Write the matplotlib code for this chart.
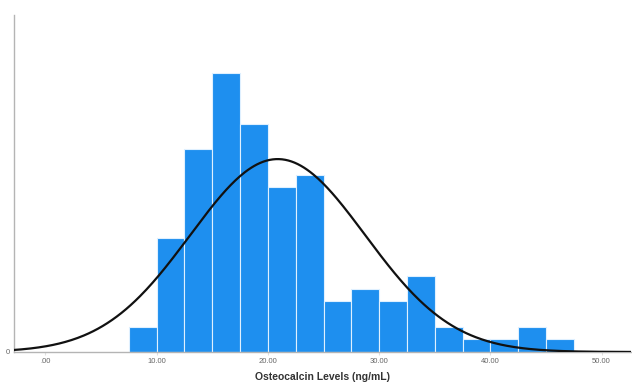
import numpy as np
import matplotlib
matplotlib.use("Agg")
import matplotlib.pyplot as plt

plt.rcParams["font.family"] = ["Liberation Sans", "DejaVu Sans"]

# histogram of osteocalcin levels, bins of 2.5 ng/mL starting at 7.5
BIN_START = 7.5
BIN_WIDTH = 2.5
COUNTS = [2, 9, 16, 22, 18, 13, 14, 4, 5, 4, 6, 2, 1, 1, 2, 1]

# normal curve parameters
MEAN = 20.88
SD = 7.86

XTICKS = [0, 10, 20, 30, 40, 50]
XTICK_LABELS = [".00", "10.00", "20.00", "30.00", "40.00", "50.00"]

BAR_COLOR = "#1e8fef"
AXIS_COLOR = "#b4b4b4"
TEXT_COLOR = "#666666"

counts = np.array(COUNTS)
n = counts.sum()
lefts = BIN_START + BIN_WIDTH * np.arange(len(counts))

fig = plt.figure(figsize=(6.32, 3.86), dpi=100)
ax = fig.add_axes([14 / 632, 34 / 386, 617 / 632, 337 / 386])

ax.bar(lefts, counts, width=BIN_WIDTH, align="edge", color=BAR_COLOR,
       edgecolor="#dff0ff", linewidth=0.8, zorder=2)

xs = np.linspace(-3, 53, 400)
curve = n * BIN_WIDTH / (SD * np.sqrt(2 * np.pi)) * np.exp(-0.5 * ((xs - MEAN) / SD) ** 2)
ax.plot(xs, curve, color="#111111", linewidth=1.6, zorder=3)

ax.set_xlim(-2.83, 52.65)
ax.set_ylim(0, 26.6)

for side in ["top", "right"]:
    ax.spines[side].set_visible(False)
for side in ["left", "bottom"]:
    ax.spines[side].set_color(AXIS_COLOR)
    ax.spines[side].set_linewidth(1.0)

ax.set_xticks(XTICKS)
ax.set_xticklabels(XTICK_LABELS)
ax.set_yticks([0])
ax.set_yticklabels(["0"])
ax.tick_params(axis="x", length=2, color="#e0e0e0", labelsize=5.5,
               labelcolor=TEXT_COLOR, pad=2)
ax.tick_params(axis="y", length=0, labelsize=5.5, labelcolor=TEXT_COLOR, pad=3)

ax.set_xlabel("Osteocalcin Levels (ng/mL)", fontsize=7.5, fontweight="bold",
              color="#333333", labelpad=5)

fig.savefig("out.png", dpi=100, facecolor="white")
